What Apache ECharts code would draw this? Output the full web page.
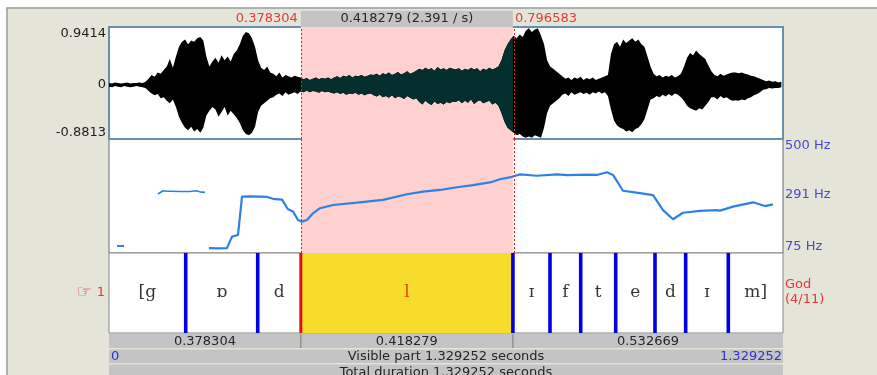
<!DOCTYPE html>
<html>
<head>
<meta charset="utf-8">
<script src="https://cdn.jsdelivr.net/npm/echarts@6/dist/echarts.min.js"></script>
<style>
  html, body { margin: 0; padding: 0; background: #ffffff; }
  #chart { width: 877px; height: 375px; }
</style>
</head>
<body>
<div id="chart"></div>
<script>
// ---- Sound: total duration and current selection (seconds) ----
const totalDur = 1.329252;
const selStart = 0.378304;
const selEnd = 0.796583;

// ---- Waveform envelope, one max/min pair every waveStep seconds ----
const waveStep = 0.006;
const waveMax = [
  0.03,0.02,0.04,0.03,0.02,0.03,0.04,0.02,0.03,0.03,0.04,0.03,0.05,
  0.10,0.16,0.13,0.20,0.18,0.24,
  0.30,0.42,0.28,0.46,
  0.62,0.70,0.74,0.66,0.72,0.70,0.76,0.78,0.72,
  0.46,0.30,0.38,
  0.44,0.36,0.48,0.40,0.46,0.38,0.50,0.56,
  0.66,0.80,0.86,0.84,0.76,0.62,
  0.40,0.28,0.24,0.30,0.20,
  0.18,0.14,0.20,0.12,0.16,0.14,0.12,0.15,0.13,
  0.12,0.09,0.11,0.08,0.10,0.12,0.09,0.11,0.10,0.12,0.09,
  0.12,0.14,0.11,0.15,0.13,0.16,0.12,0.15,0.14,0.16,0.13,0.15,0.17,
  0.16,0.18,0.15,0.19,0.17,0.20,0.16,0.18,0.21,0.17,0.19,0.22,0.18,0.20,0.23,
  0.26,0.24,0.28,0.25,0.27,0.23,0.29,0.25,0.27,0.24,0.28,0.26,
  0.25,0.27,0.23,0.26,0.24,0.28,0.25,0.27,0.22,0.26,0.24,0.28,0.25,0.27,0.30,
  0.40,0.56,0.66,0.74,
  0.80,0.76,0.82,0.78,0.88,0.92,0.86,0.90,0.92,0.80,0.66,0.40,0.30,0.26,0.22,0.18,
  0.14,0.10,0.12,0.08,0.12,0.10,0.13,0.08,0.11,0.09,0.12,0.08,0.10,0.12,0.14,0.16,
  0.50,0.66,0.70,0.62,0.74,0.68,0.72,0.76,0.70,0.74,0.66,0.62,0.46,0.30,
  0.18,0.14,0.16,0.12,0.15,0.13,0.16,0.12,0.14,0.18,
  0.30,0.44,0.52,0.48,0.56,0.50,0.46,0.42,0.32,0.22,
  0.16,0.14,0.18,0.15,0.17,0.19,0.20,
  0.20,0.19,0.20,0.18,0.17,0.15,0.14,0.12,0.10,
  0.08,0.06,0.07,0.05,0.06,0.04,0.05
];
const waveMin = [
  -0.03,-0.04,-0.02,-0.03,-0.04,-0.02,-0.03,-0.04,-0.03,-0.02,-0.03,-0.04,-0.05,
  -0.10,-0.14,-0.17,-0.15,-0.22,-0.20,
  -0.26,-0.30,-0.24,-0.36,
  -0.52,-0.62,-0.70,-0.74,-0.68,-0.76,-0.72,-0.78,-0.70,
  -0.50,-0.42,-0.36,
  -0.40,-0.52,-0.44,-0.36,-0.50,-0.42,-0.48,-0.54,
  -0.62,-0.74,-0.80,-0.82,-0.78,-0.68,
  -0.44,-0.34,-0.30,-0.26,-0.22,
  -0.20,-0.16,-0.14,-0.18,-0.12,-0.16,-0.14,-0.12,-0.15,
  -0.11,-0.12,-0.09,-0.12,-0.10,-0.11,-0.13,-0.10,-0.12,-0.11,-0.13,
  -0.14,-0.12,-0.15,-0.13,-0.16,-0.14,-0.15,-0.13,-0.16,-0.14,-0.17,-0.15,-0.14,
  -0.17,-0.19,-0.16,-0.20,-0.18,-0.21,-0.17,-0.22,-0.19,-0.20,-0.23,-0.18,-0.21,-0.24,-0.22,
  -0.28,-0.32,-0.26,-0.30,-0.33,-0.27,-0.31,-0.29,-0.32,-0.28,-0.30,-0.27,
  -0.28,-0.25,-0.30,-0.26,-0.29,-0.24,-0.31,-0.27,-0.25,-0.30,-0.28,-0.26,-0.32,-0.29,-0.34,
  -0.46,-0.60,-0.70,-0.74,
  -0.78,-0.82,-0.80,-0.84,-0.86,-0.84,-0.86,-0.82,-0.84,-0.86,-0.70,-0.46,-0.34,-0.30,-0.26,-0.22,
  -0.16,-0.14,-0.18,-0.12,-0.16,-0.14,-0.12,-0.15,-0.13,-0.16,-0.12,-0.14,-0.11,-0.14,-0.12,-0.18,
  -0.40,-0.58,-0.66,-0.70,-0.72,-0.76,-0.74,-0.77,-0.72,-0.70,-0.64,-0.56,-0.40,-0.24,
  -0.22,-0.18,-0.20,-0.16,-0.19,-0.15,-0.18,-0.14,-0.16,-0.20,
  -0.26,-0.34,-0.38,-0.40,-0.42,-0.38,-0.40,-0.34,-0.28,-0.20,
  -0.20,-0.24,-0.18,-0.22,-0.20,-0.24,-0.26,
  -0.25,-0.26,-0.24,-0.25,-0.22,-0.20,-0.17,-0.15,-0.12,
  -0.08,-0.07,-0.05,-0.06,-0.05,-0.05,-0.04
];
const waveTicks = [-0.8813, 0, 0.9414];

// ---- Pitch contour (seconds, Hz), three voiced stretches ----
const pitchTicks = [75, 291, 500];
const pitchSegA = [[0.0158, 101], [0.0296, 101]];
const pitchSegB = [
  [0.0966, 295], [0.1065, 307], [0.1144, 305], [0.1242, 305], [0.1400, 304],
  [0.1597, 304], [0.1716, 307], [0.1795, 303], [0.1893, 301]
];
const pitchSegC = [
  [0.1972, 93], [0.2150, 92], [0.2327, 93], [0.2426, 136], [0.2544, 142],
  [0.2623, 285], [0.2781, 286], [0.2978, 285], [0.3116, 284], [0.3234, 277],
  [0.3412, 274], [0.3530, 238], [0.3629, 230], [0.3727, 198], [0.3806, 192],
  [0.3905, 198], [0.4023, 223], [0.4161, 242], [0.4418, 254], [0.4891, 263],
  [0.5404, 273], [0.5877, 294], [0.6193, 304], [0.6528, 310], [0.6863, 320],
  [0.7179, 328], [0.7514, 338], [0.7711, 350], [0.7948, 359], [0.8106, 368],
  [0.8441, 363], [0.8835, 368], [0.9033, 365], [0.9486, 367], [0.9624, 366],
  [0.9821, 376], [0.9940, 366], [1.0137, 307], [1.0472, 298], [1.0729, 291],
  [1.0926, 235], [1.1123, 201], [1.1320, 225], [1.1655, 232], [1.1991, 235],
  [1.2050, 233], [1.2306, 248], [1.2701, 264], [1.2938, 250], [1.3095, 256]
];

// ---- Interval tier "God" ----
const tierName = 'God';
const tierNumber = 1;
const tierBounds = [0.1513, 0.2933, 0.378304, 0.796583, 0.8697, 0.9303, 0.9993, 1.0768, 1.1373, 1.2214];
const tierLabels = ['[g', 'ɒ', 'd', 'l', 'ɪ', 'f', 't', 'e', 'd', 'ɪ', 'm]'];
const selectedInterval = 3;

// ---- Look ----
const UI_FONT = 'DejaVu Sans';
const IPA_FONT = 'DejaVu Serif';
const BEIGE = '#e4e4d8';
const PANEL_GREY = '#c4c4c4';
const PINK = '#ffd0d0';
const YELLOW = '#f7dd2b';
const SEL_RED = '#e23a3a';
const PITCH_BLUE = '#2c82e4';
const BOUND_BLUE = '#0000e0';

// grid order: pitch, tier, waveform (waveform frame drawn last)
const G_PITCH = 0, G_TIER = 1, G_WAVE = 2;

const edges = [0].concat(tierBounds, [totalDur]);
const tierLabelData = tierLabels.map(function (s, k) {
  return {
    name: s,
    value: [(edges[k] + edges[k + 1]) / 2, 0.5],
    label: { color: k === selectedInterval ? '#e01818' : '#000000' }
  };
});

function xAxisFor(g) {
  return { type: 'value', gridIndex: g, min: 0, max: totalDur, show: false };
}

// Whole envelope as one polygon: upper edge left to right, lower edge back.
function envelopePoints(api) {
  const pts = [];
  for (let i = 0; i < waveMax.length; i++) pts.push(api.coord([i * waveStep, waveMax[i]]));
  for (let i = waveMin.length - 1; i >= 0; i--) pts.push(api.coord([i * waveStep, waveMin[i]]));
  return pts;
}

const chart = echarts.init(document.getElementById('chart'));

const option = {
  animation: false,
  backgroundColor: BEIGE,
  grid: [
    { left: 109, width: 674, top: 139, height: 114, show: true, backgroundColor: '#ffffff', borderColor: '#6e6e6e', borderWidth: 1 },
    { left: 109, width: 674, top: 253, height: 80, show: true, backgroundColor: '#ffffff', borderColor: '#8a8a8a', borderWidth: 1 },
    { left: 109, width: 674, top: 27, height: 112, show: true, backgroundColor: '#ffffff', borderColor: '#6b8fa8', borderWidth: 2 }
  ],
  xAxis: [xAxisFor(G_PITCH), xAxisFor(G_TIER), xAxisFor(G_WAVE)],
  yAxis: [
    {
      type: 'value', gridIndex: G_PITCH, position: 'right', min: 75, max: 500,
      axisLine: { show: false }, axisTick: { show: false }, splitLine: { show: false },
      axisLabel: {
        customValues: pitchTicks, formatter: '{value} Hz', margin: 2,
        color: '#4848cc', fontFamily: UI_FONT, fontSize: 13,
        verticalAlignMinLabel: 'bottom', verticalAlignMaxLabel: 'top'
      }
    },
    { type: 'value', gridIndex: G_TIER, min: 0, max: 1, show: false },
    {
      type: 'value', gridIndex: G_WAVE, min: -0.8813, max: 0.9414,
      axisLine: { show: false }, axisTick: { show: false }, splitLine: { show: false },
      axisLabel: {
        customValues: waveTicks, margin: 3,
        formatter: function (v) { return String(v); },
        color: '#1e1e1e', fontFamily: UI_FONT, fontSize: 13,
        verticalAlignMinLabel: 'bottom', verticalAlignMaxLabel: 'top'
      }
    }
  ],
  series: [
    // pink selection (waveform panel)
    {
      type: 'line', xAxisIndex: G_WAVE, yAxisIndex: G_WAVE, data: [], z: 1, silent: true,
      markArea: {
        silent: true, itemStyle: { color: PINK },
        data: [[{ xAxis: selStart }, { xAxis: selEnd }]]
      }
    },
    // pink selection (pitch panel)
    {
      type: 'line', xAxisIndex: G_PITCH, yAxisIndex: G_PITCH, data: [], z: 1, silent: true,
      markArea: {
        silent: true, itemStyle: { color: PINK },
        data: [[{ xAxis: selStart }, { xAxis: selEnd }]]
      }
    },
    // yellow selected interval (tier)
    {
      type: 'line', xAxisIndex: G_TIER, yAxisIndex: G_TIER, data: [], z: 1, silent: true,
      markArea: {
        silent: true, itemStyle: { color: YELLOW },
        data: [[{ xAxis: selStart }, { xAxis: selEnd }]]
      }
    },
    // waveform: black everywhere, dark teal inside the selection
    {
      type: 'custom', xAxisIndex: G_WAVE, yAxisIndex: G_WAVE, z: 3, silent: true,
      data: [[0, 0, 0], [1, selStart, selEnd]],
      encode: { x: [1, 2] },
      renderItem: function (params, api) {
        const pts = envelopePoints(api);
        if (api.value(0) === 0) {
          return { type: 'polygon', shape: { points: pts }, style: { fill: '#000000' } };
        }
        const p0 = api.coord([api.value(1), 0.9414]);
        const p1 = api.coord([api.value(2), -0.8813]);
        return {
          type: 'polygon',
          shape: { points: pts },
          style: { fill: '#052f2f' },
          clipPath: { type: 'rect', shape: { x: p0[0], y: p0[1], width: p1[0] - p0[0], height: p1[1] - p0[1] } }
        };
      }
    },
    // dashed selection edges through the waveform
    {
      type: 'line', xAxisIndex: G_WAVE, yAxisIndex: G_WAVE, data: [], z: 5, silent: true,
      markLine: {
        silent: true, symbol: 'none', label: { show: false },
        lineStyle: { color: '#e02424', width: 1, type: [2, 2] },
        data: [{ xAxis: selStart }, { xAxis: selEnd }]
      }
    },
    // dashed selection edges through the pitch panel
    {
      type: 'line', xAxisIndex: G_PITCH, yAxisIndex: G_PITCH, data: [], z: 5, silent: true,
      markLine: {
        silent: true, symbol: 'none', label: { show: false },
        lineStyle: { color: '#e02424', width: 1, type: [2, 2] },
        data: [{ xAxis: selStart }, { xAxis: selEnd }]
      }
    },
    // pitch contour
    {
      type: 'line', xAxisIndex: G_PITCH, yAxisIndex: G_PITCH, data: pitchSegA, z: 4,
      showSymbol: false, silent: true, lineStyle: { color: PITCH_BLUE, width: 2 }
    },
    {
      type: 'line', xAxisIndex: G_PITCH, yAxisIndex: G_PITCH, data: pitchSegB, z: 4,
      showSymbol: false, silent: true, lineStyle: { color: PITCH_BLUE, width: 1.6 }
    },
    {
      type: 'line', xAxisIndex: G_PITCH, yAxisIndex: G_PITCH, data: pitchSegC, z: 4,
      showSymbol: false, silent: true, lineStyle: { color: PITCH_BLUE, width: 2.2 }
    },
    // tier boundaries
    {
      type: 'custom', xAxisIndex: G_TIER, yAxisIndex: G_TIER, z: 4, silent: true,
      data: tierBounds.map(function (t) { return [t]; }),
      renderItem: function (params, api) {
        const t = api.value(0);
        const top = api.coord([t, 1]);
        const bot = api.coord([t, 0]);
        const isSel = Math.abs(t - selStart) < 1e-9;
        const w = isSel ? 3 : 3.6;
        return {
          type: 'rect',
          shape: { x: top[0] - w / 2, y: top[1], width: w, height: bot[1] - top[1] },
          style: { fill: isSel ? '#e01010' : BOUND_BLUE }
        };
      }
    },
    // tier interval labels
    {
      type: 'scatter', xAxisIndex: G_TIER, yAxisIndex: G_TIER, z: 5, silent: true,
      symbolSize: 1, itemStyle: { color: 'rgba(0,0,0,0)' },
      data: tierLabelData,
      label: {
        show: true, position: 'inside',
        formatter: function (p) { return p.name; },
        fontFamily: IPA_FONT, fontSize: 17
      }
    }
  ]
};

chart.setOption(option);

// ---- Window chrome placed from the time axis ----
const px = function (t) { return chart.convertToPixel({ xAxisIndex: G_WAVE }, t); };
const xL = px(0), xR = px(totalDur), xs = px(selStart), xe = px(selEnd);
const fmt6 = function (v) { return v.toFixed(6); };
const selDur = selEnd - selStart;

function txt(x, y, s, opts) {
  return {
    type: 'text', x: x, y: y, silent: true, z: 10,
    style: Object.assign({
      text: s, fill: '#262626', font: '13px "' + UI_FONT + '"',
      textAlign: 'center', textVerticalAlign: 'middle'
    }, opts || {})
  };
}
function box(x, y, w, h, fill) {
  return { type: 'rect', silent: true, z: 9, shape: { x: x, y: y, width: w, height: h }, style: { fill: fill } };
}
function hline(x1, y1, x2, y2, col, lw) {
  return { type: 'line', silent: true, z: 10, shape: { x1: x1, y1: y1, x2: x2, y2: y2 }, style: { stroke: col, lineWidth: lw || 1 } };
}

const graphics = [
  // outer window edge
  box(0, 0, 877, 7.5, '#ffffff'),
  box(0, 0, 6.5, 375, '#ffffff'),
  hline(6, 8, 877, 8, '#9c9c9c', 1.5),
  hline(7, 8, 7, 375, '#9c9c9c', 1.5),

  // selection readout above the waveform
  box(xs, 10, xe - xs, 17, PANEL_GREY),
  hline(xs, 10.5, xe, 10.5, '#dcdcdc', 1),
  txt((xs + xe) / 2, 18.5, fmt6(selDur) + ' (' + (1 / selDur).toFixed(3) + ' / s)'),
  txt(xs - 3, 18.5, fmt6(selStart), { fill: SEL_RED, textAlign: 'right' }),
  txt(xe + 2, 18.5, fmt6(selEnd), { fill: SEL_RED, textAlign: 'left' }),

  // tier pointer, name and number
  txt(92, 293, '☞', { fill: SEL_RED, textAlign: 'right', font: '17px "' + UI_FONT + '"' }),
  txt(105, 293, String(tierNumber), { fill: SEL_RED, textAlign: 'right' }),
  txt(785, 285, tierName, { fill: SEL_RED, textAlign: 'left' }),
  txt(785, 300, '(' + (selectedInterval + 1) + '/' + tierLabels.length + ')', { fill: SEL_RED, textAlign: 'left' }),

  // duration row
  box(xL, 334, xs - xL, 14, PANEL_GREY),
  box(xs, 334, xe - xs, 14, PANEL_GREY),
  box(xe, 334, xR - xe, 14, PANEL_GREY),
  hline(xs, 334, xs, 348, '#7a7a7a', 1),
  hline(xe, 334, xe, 348, '#7a7a7a', 1),
  txt((xL + xs) / 2, 341.5, fmt6(selStart - 0)),
  txt((xs + xe) / 2, 341.5, fmt6(selDur)),
  txt((xe + xR) / 2, 341.5, fmt6(totalDur - selEnd)),

  // visible part row
  box(xL, 349.5, xR - xL, 13.5, PANEL_GREY),
  txt(xL + 2, 357, '0', { fill: '#3030d0', textAlign: 'left' }),
  txt((xL + xR) / 2, 357, 'Visible part ' + fmt6(totalDur) + ' seconds'),
  txt(xR - 1, 357, fmt6(totalDur), { fill: '#3030d0', textAlign: 'right' }),

  // total duration row
  box(xL, 364.5, xR - xL, 14, PANEL_GREY),
  txt((xL + xR) / 2, 373, 'Total duration ' + fmt6(totalDur) + ' seconds')
];

chart.setOption({ graphic: graphics });
</script>
</body>
</html>
